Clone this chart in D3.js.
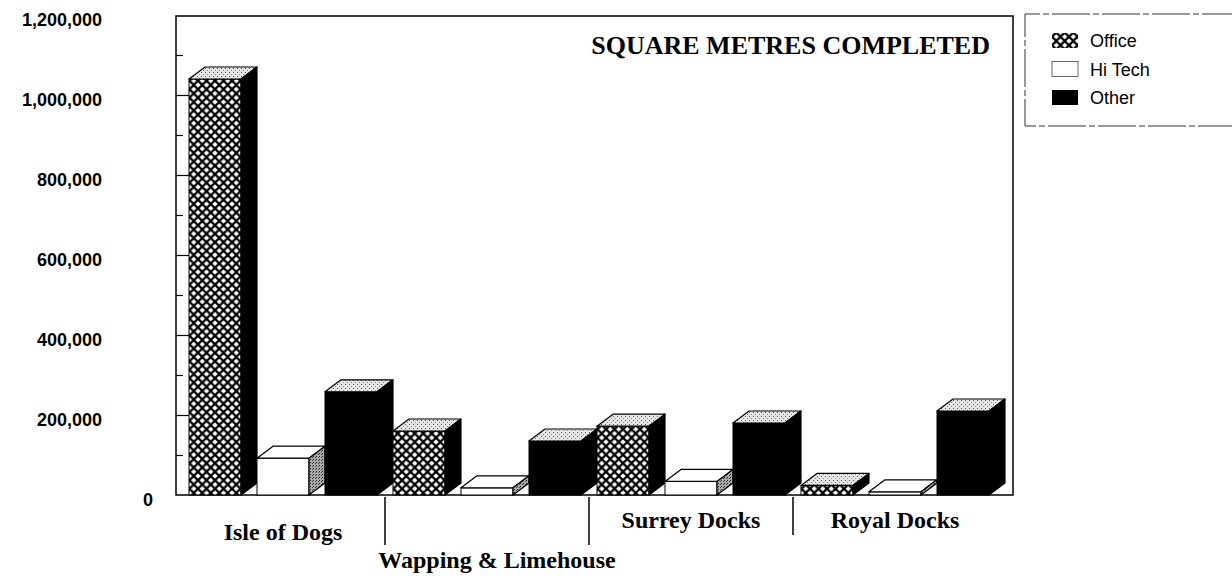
<!DOCTYPE html>
<html>
<head>
	<title>Square metres completed</title>
	<script src="https://d3js.org/d3.v7.min.js"></script>
	<style>
		body { margin: 0; background: #fff; }
		.axis .domain { display: none; }
		.axis line { stroke: #000; stroke-width: 1.2; }
		.axis text { font-family: "Liberation Sans", Arial, sans-serif; font-size: 18px; font-weight: bold; fill: #000; }
		.area-label { font-family: "Liberation Serif", "Times New Roman", serif; font-size: 24px; font-weight: bold; }
		.title { font-family: "Liberation Serif", "Times New Roman", serif; font-size: 26px; font-weight: bold; }
		.legend text { font-family: "Liberation Sans", Arial, sans-serif; font-size: 18px; }
	</style>
</head>
<body>
	<svg width="1232" height="578"></svg>
<script type="text/javascript">

	// data
	var areas = ["Isle of Dogs", "Wapping & Limehouse", "Surrey Docks", "Royal Docks"];
	var series = ["Office", "Hi Tech", "Other"];
	var office = [1040000, 160000, 172000, 24000];
	var hiTech = [92000, 18000, 34000, 8000];
	var other = [258000, 135000, 180000, 210000];
	var yTicks = [0, 200000, 400000, 600000, 800000, 1000000, 1200000];
	var yMinorTicks = [100000, 300000, 500000, 700000, 900000, 1100000];

	var data = areas.map(function(a, i) {
		return { area: a, "Office": office[i], "Hi Tech": hiTech[i], "Other": other[i] };
	});

	var svg = d3.select("svg");
	svg.append("rect").attr("width", 1232).attr("height", 578).attr("fill", "#fff");

	// patterns
	var defs = svg.append("defs");
	var hatch = defs.append("pattern")
		.attr("id", "hatch")
		.attr("patternUnits", "userSpaceOnUse")
		.attr("width", 8.5).attr("height", 8.5);
	hatch.append("rect").attr("width", 8.5).attr("height", 8.5).attr("fill", "#000");
	[[4.25, 4.25], [0, 0], [8.5, 0], [0, 8.5], [8.5, 8.5]].forEach(function(c) {
		var r = 2.7;
		hatch.append("polygon")
			.attr("points", [[c[0], c[1] - r], [c[0] + r, c[1]], [c[0], c[1] + r], [c[0] - r, c[1]]].join(" "))
			.attr("fill", "#fff");
	});

	var stipple = defs.append("pattern")
		.attr("id", "stipple")
		.attr("patternUnits", "userSpaceOnUse")
		.attr("width", 4).attr("height", 4);
	stipple.append("rect").attr("width", 4).attr("height", 4).attr("fill", "#e6e6e6");
	stipple.append("rect").attr("x", 0).attr("y", 0).attr("width", 1).attr("height", 1).attr("fill", "#555");
	stipple.append("rect").attr("x", 2).attr("y", 2).attr("width", 1).attr("height", 1).attr("fill", "#888");

	var darkStipple = defs.append("pattern")
		.attr("id", "darkStipple")
		.attr("patternUnits", "userSpaceOnUse")
		.attr("width", 3).attr("height", 3);
	darkStipple.append("rect").attr("width", 3).attr("height", 3).attr("fill", "#aaa");
	darkStipple.append("rect").attr("width", 1).attr("height", 1).attr("fill", "#222");
	darkStipple.append("rect").attr("x", 2).attr("y", 1).attr("width", 1).attr("height", 1).attr("fill", "#444");

	const frame = {left: 176, top: 16, right: 1013, bottom: 495};
	const depthX = 16, depthY = 12;

	var y = d3.scaleLinear()
		.domain([0, 1200000])
		.range([frame.bottom, frame.top - 1]);

	var x0 = d3.scaleBand()
		.domain(areas)
		.range([181, 997]);

	var x1 = d3.scaleBand()
		.domain(series)
		.range([0, x0.bandwidth()])
		.paddingInner(16 / 68)
		.paddingOuter(8 / 68);

	var frontFill = { "Office": "url(#hatch)", "Hi Tech": "#fff", "Other": "#000" };
	var topFill = { "Office": "url(#stipple)", "Hi Tech": "#fff", "Other": "url(#stipple)" };
	var sideFill = { "Office": "#000", "Hi Tech": "url(#darkStipple)", "Other": "#000" };

	// frame
	svg.append("rect")
		.attr("x", frame.left).attr("y", frame.top)
		.attr("width", frame.right - frame.left)
		.attr("height", frame.bottom - frame.top)
		.attr("fill", "none")
		.attr("stroke", "#000")
		.attr("stroke-width", 1.5);

	// axis ticks (pointing into the plot)
	var yAxis = svg.append("g")
		.attr("class", "axis")
		.attr("transform", "translate(" + frame.left + ",0)")
		.call(d3.axisLeft(y).tickValues(yTicks).tickSize(-14).tickPadding(74).tickFormat(d3.format(",")));

	yAxis.selectAll("text")
		.attr("dy", "0.6em")
		.filter(function(d) { return d === 0; })
		.attr("x", -23);
	yAxis.selectAll(".tick").filter(function(d) { return d === 0 || d === 1200000; }).select("line").remove();

	svg.append("g")
		.attr("class", "axis")
		.attr("transform", "translate(" + frame.left + ",0)")
		.call(d3.axisLeft(y).tickValues(yMinorTicks).tickSize(-7).tickFormat(""));

	// 3d bars
	var bars = svg.append("g")
		.selectAll("g")
		.data(data)
		.enter().append("g")
		.attr("transform", function(d) { return "translate(" + x0(d.area) + ",0)"; })
		.selectAll("g")
		.data(function(d) { return series.map(function(s) { return { key: s, value: d[s] }; }); })
		.enter().append("g");

	var w = x1.bandwidth();
	var base = y(0);

	bars.append("rect")
		.attr("x", function(d) { return x1(d.key); })
		.attr("y", function(d) { return y(d.value); })
		.attr("width", w)
		.attr("height", function(d) { return base - y(d.value); })
		.attr("fill", function(d) { return frontFill[d.key]; })
		.attr("stroke", "#000")
		.attr("stroke-width", 1);

	bars.append("polygon")
		.attr("points", function(d) {
			var x = x1(d.key), t = y(d.value);
			return [[x, t], [x + depthX, t - depthY], [x + w + depthX, t - depthY], [x + w, t]].join(" ");
		})
		.attr("fill", function(d) { return topFill[d.key]; })
		.attr("stroke", "#000")
		.attr("stroke-width", 1.2)
		.attr("stroke-linejoin", "round");

	bars.append("polygon")
		.attr("points", function(d) {
			var x = x1(d.key) + w, t = y(d.value);
			return [[x, t], [x + depthX, t - depthY], [x + depthX, base - depthY], [x, base]].join(" ");
		})
		.attr("fill", function(d) { return sideFill[d.key]; })
		.attr("stroke", "#000")
		.attr("stroke-width", 1.2)
		.attr("stroke-linejoin", "round");

	// group separators and labels
	svg.append("g")
		.selectAll("line")
		.data(areas.slice(1))
		.enter().append("line")
		.attr("x1", function(d) { return x0(d); })
		.attr("x2", function(d) { return x0(d); })
		.attr("y1", base + 2)
		.attr("y2", function(d, i) { return i === 2 ? base + 40 : base + 50; })
		.attr("stroke", "#000")
		.attr("stroke-width", 1.5);

	var labelBaseline = { "Isle of Dogs": 540, "Wapping & Limehouse": 568, "Surrey Docks": 528, "Royal Docks": 528 };
	var labelShift = { "Isle of Dogs": 0, "Wapping & Limehouse": 10, "Surrey Docks": 0, "Royal Docks": 0 };

	svg.append("g")
		.selectAll("text")
		.data(areas)
		.enter().append("text")
		.attr("class", "area-label")
		.attr("x", function(d) { return x0(d) + x0.bandwidth() / 2 + labelShift[d]; })
		.attr("y", function(d) { return labelBaseline[d]; })
		.attr("text-anchor", "middle")
		.text(function(d) { return d; });

	// title
	svg.append("text")
		.attr("class", "title")
		.attr("x", 990)
		.attr("y", 54)
		.attr("text-anchor", "end")
		.text("SQUARE METRES COMPLETED");

	// legend
	var legendBox = svg.append("g").attr("class", "legend");
	legendBox.append("path")
		.attr("d", "M1240,14 H1025 V126 H1240")
		.attr("fill", "none")
		.attr("stroke", "#333")
		.attr("stroke-width", 1)
		.attr("stroke-dasharray", "38 3 6 3");

	var legend = legendBox.selectAll("g")
		.data(series)
		.enter().append("g")
		.attr("transform", function(d, i) { return "translate(1052," + (41 + i * 28.5) + ")"; });

	legend.append("rect")
		.attr("x", 0)
		.attr("y", -8)
		.attr("width", 26)
		.attr("height", 15)
		.attr("fill", function(d) { return frontFill[d]; })
		.attr("stroke", function(d) { return d === "Hi Tech" ? "#444" : "none"; })
		.attr("stroke-width", 0.8);

	legend.append("text")
		.attr("x", 38)
		.attr("y", 0)
		.attr("dy", "0.35em")
		.text(function(d) { return d; });

</script>
</body>
</html>
